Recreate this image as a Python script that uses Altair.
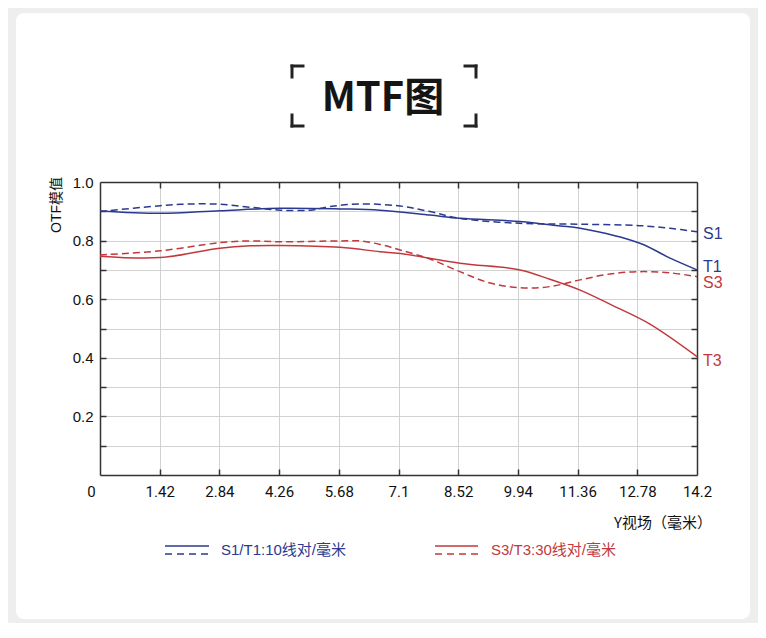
import altair as alt
import pandas as pd

# ---- data ----
x_ticks = [0, 1.42, 2.84, 4.26, 5.68, 7.1, 8.52, 9.94, 11.36, 12.78, 14.2]
y_grid = [0.1, 0.2, 0.3, 0.4, 0.5, 0.6, 0.7, 0.8, 0.9, 1.0]
y_inner = [0.1, 0.2, 0.3, 0.4, 0.5, 0.6, 0.7, 0.8, 0.9]

S1_x = [0, 1.43, 2.14, 2.85, 3.57, 4.28, 5.0, 5.47, 6.18, 7.14, 7.85, 8.56, 9.99, 11.42, 12.84, 13.56, 14.2]
S1_y = [0.899, 0.919, 0.925, 0.924, 0.914, 0.904, 0.904, 0.916, 0.925, 0.918, 0.899, 0.876, 0.859, 0.856, 0.851, 0.842, 0.830]

T1_x = [0, 1.43, 2.85, 4.28, 5.71, 6.66, 7.85, 8.56, 9.99, 10.94, 11.42, 12.84, 13.56, 14.2]
T1_y = [0.901, 0.893, 0.902, 0.910, 0.908, 0.904, 0.887, 0.876, 0.865, 0.850, 0.842, 0.791, 0.740, 0.700]

S3_x = [0, 1.43, 2.85, 3.57, 4.28, 5.71, 6.18, 6.66, 7.14, 7.85, 8.56, 9.28, 9.99, 10.70, 11.42, 12.13, 12.84, 13.56, 14.2]
S3_y = [0.751, 0.765, 0.793, 0.799, 0.796, 0.799, 0.799, 0.787, 0.768, 0.737, 0.694, 0.655, 0.639, 0.643, 0.666, 0.686, 0.694, 0.690, 0.677]

T3_x = [0, 1.43, 2.85, 3.57, 4.28, 5.71, 6.66, 7.14, 8.56, 9.99, 10.70, 11.42, 12.20, 13.08, 14.2]
T3_y = [0.747, 0.742, 0.774, 0.782, 0.783, 0.777, 0.762, 0.756, 0.723, 0.700, 0.668, 0.631, 0.578, 0.515, 0.404]

end_labels = ["S1", "T1", "S3", "T3"]
end_label_y = [0.823, 0.710, 0.655, 0.389]

legend_texts = ["S1/T1:10线对/毫米", "S3/T3:30线对/毫米"]
title_text = "MTF图"
y_title = "OTF模值"
x_title = "Y视场（毫米）"

BLUE = "#2b3a8e"
RED = "#c2393d"
FRAME = "#333333"
GRID = "#d2d2d2"
W, H = 597, 293

xs = alt.Scale(domain=[0, 14.2], nice=False, zero=False)
ys = alt.Scale(domain=[0, 1], nice=False, zero=False)

one = pd.DataFrame({"a": [0]})
layers = []

# gray surround with rounded inner card edge
layers.append(
    alt.Chart(one).mark_rect(fill=None, stroke="#eeeeee", strokeWidth=40, cornerRadius=28)
    .encode(x=alt.value(-104), x2=alt.value(670), y=alt.value(-189), y2=alt.value(457))
)

# axis helper layers
helper = pd.DataFrame({"x": [0, 14.2], "y": [0, 1]})
label_expr_y = "round(datum.value*10) % 2 == 0 ? format(datum.value, '.1f') : ''"
axA = alt.Chart(helper).mark_point(opacity=0).encode(
    x=alt.X("x:Q", scale=xs, title=None, axis=alt.Axis(
        orient="bottom", values=x_ticks, grid=True, gridColor=GRID, gridWidth=1,
        ticks=False, domain=True, domainColor=FRAME, domainWidth=1.5,
        format=".2~f",
        labelFont="Roboto", labelFontSize=15, labelColor="#111111", labelPadding=9,
        labelFlush=False, labelOverlap=False,
        labelOffset={"condition": {"test": "datum.value == 0", "value": -9}, "value": 0})),
    y=alt.Y("y:Q", scale=ys, title=None, axis=alt.Axis(
        orient="left", values=y_grid, grid=True, gridColor=GRID, gridWidth=1,
        ticks=False, domain=True, domainColor=FRAME, domainWidth=1.5,
        labelExpr=label_expr_y, labelFont="Liberation Sans", labelFontSize=15,
        labelColor="#111111", labelPadding=7, labelOverlap=False, labelFlush=False)),
)
axB = alt.Chart(helper).mark_point(opacity=0).encode(
    x=alt.X("x:Q", scale=xs, title=None, axis=alt.Axis(
        orient="top", offset=-H, values=x_ticks[1:-1], grid=False, labels=False,
        ticks=True, tickSize=6, tickColor=FRAME, tickWidth=1.5, domain=False)),
    y=alt.Y("y:Q", scale=ys, title=None, axis=alt.Axis(
        orient="right", offset=-W, values=y_inner, grid=False, labels=False,
        ticks=True, tickSize=6, tickColor=FRAME, tickWidth=1.5, domain=False)),
)
axC = alt.Chart(helper).mark_point(opacity=0).encode(
    x=alt.X("x:Q", scale=xs, title=None, axis=alt.Axis(
        orient="bottom", offset=-H, values=x_ticks[1:-1], grid=False, labels=False,
        ticks=True, tickSize=6, tickColor=FRAME, tickWidth=1.5,
        domain=True, domainColor=FRAME, domainWidth=1.5)),
    y=alt.Y("y:Q", scale=ys, title=None, axis=alt.Axis(
        orient="left", offset=-W, values=y_inner, grid=False, labels=False,
        ticks=True, tickSize=6, tickColor=FRAME, tickWidth=1.5,
        domain=True, domainColor=FRAME, domainWidth=1.5)),
)
layers += [axA, axB, axC]

# curves
series = [
    ("S1", S1_x, S1_y, BLUE, [7, 4]),
    ("T1", T1_x, T1_y, BLUE, None),
    ("S3", S3_x, S3_y, RED, [7, 4]),
    ("T3", T3_x, T3_y, RED, None),
]
for name, sx, sy, col, dash in series:
    df = pd.DataFrame({"x": sx, "y": sy})
    kw = dict(color=col, strokeWidth=1.5, interpolate="catmull-rom")
    if dash:
        kw["strokeDash"] = dash
    layers.append(
        alt.Chart(df).mark_line(**kw).encode(
            x=alt.X("x:Q", scale=xs, axis=None),
            y=alt.Y("y:Q", scale=ys, axis=None),
        )
    )

# end labels
lab_df = pd.DataFrame({
    "label": end_labels,
    "y": end_label_y,
    "x": [14.2] * 4,
    "c": [BLUE, BLUE, RED, RED],
})
layers.append(
    alt.Chart(lab_df).mark_text(align="left", baseline="middle", dx=6, fontSize=16,
                                font="Liberation Sans").encode(
        x=alt.X("x:Q", scale=xs, axis=None),
        y=alt.Y("y:Q", scale=ys, axis=None),
        text="label:N",
        color=alt.Color("c:N", scale=None),
    )
)

# title and brackets
layers.append(
    alt.Chart(one).mark_text(text=title_text, fontSize=40, fontWeight="bold",
                             font="Noto Sans CJK SC", color="#151515",
                             align="center", baseline="middle")
    .encode(x=alt.value(283), y=alt.value(-83))
)
bracket_segments = [
    (192, 203, -116, -116), (192, 192, -116, -105),
    (192, 192, -67, -56), (192, 203, -56, -56),
    (365, 376, -116, -116), (376, 376, -116, -105),
    (376, 376, -67, -56), (365, 376, -56, -56),
]
for x1, x2, y1, y2 in bracket_segments:
    layers.append(
        alt.Chart(one).mark_rule(color="#222222", strokeWidth=3, strokeCap="square")
        .encode(x=alt.value(x1), x2=alt.value(x2), y=alt.value(y1), y2=alt.value(y2))
    )

# axis titles
layers.append(
    alt.Chart(one).mark_text(text=y_title, fontSize=14, angle=270,
                             font="Liberation Sans, Noto Sans CJK SC", color="#111111",
                             align="center", baseline="middle")
    .encode(x=alt.value(-43), y=alt.value(23))
)
layers.append(
    alt.Chart(one).mark_text(text=x_title, fontSize=15,
                             font="Noto Sans CJK SC", color="#111111",
                             align="right", baseline="middle")
    .encode(x=alt.value(612), y=alt.value(341))
)

# custom legend
for (lx1, lx2, tx, col, txt) in [(65, 109, 121, BLUE, legend_texts[0]),
                                 (335, 378, 391, RED, legend_texts[1])]:
    layers.append(
        alt.Chart(one).mark_rule(color=col, strokeWidth=1.3)
        .encode(x=alt.value(lx1), x2=alt.value(lx2), y=alt.value(364))
    )
    layers.append(
        alt.Chart(one).mark_rule(color=col, strokeWidth=1.3, strokeDash=[7, 5])
        .encode(x=alt.value(lx1), x2=alt.value(lx2), y=alt.value(372))
    )
    layers.append(
        alt.Chart(one).mark_text(text=txt, fontSize=15, color=col,
                                 font="Liberation Sans, Noto Sans CJK SC",
                                 align="left", baseline="middle")
        .encode(x=alt.value(tx), y=alt.value(368))
    )

chart = (
    alt.layer(*layers)
    .resolve_scale(x="shared", y="shared")
    .resolve_axis(x="independent", y="independent")
    .properties(
        width=W, height=H,
        padding={"left": 92, "top": 174, "right": 61, "bottom": 148},
        autosize=alt.AutoSizeParams(type="none"),
        background="white",
    )
    .configure_view(stroke=None)
)

chart.save("out.html", embed_options={"renderer": "svg", "actions": False})
